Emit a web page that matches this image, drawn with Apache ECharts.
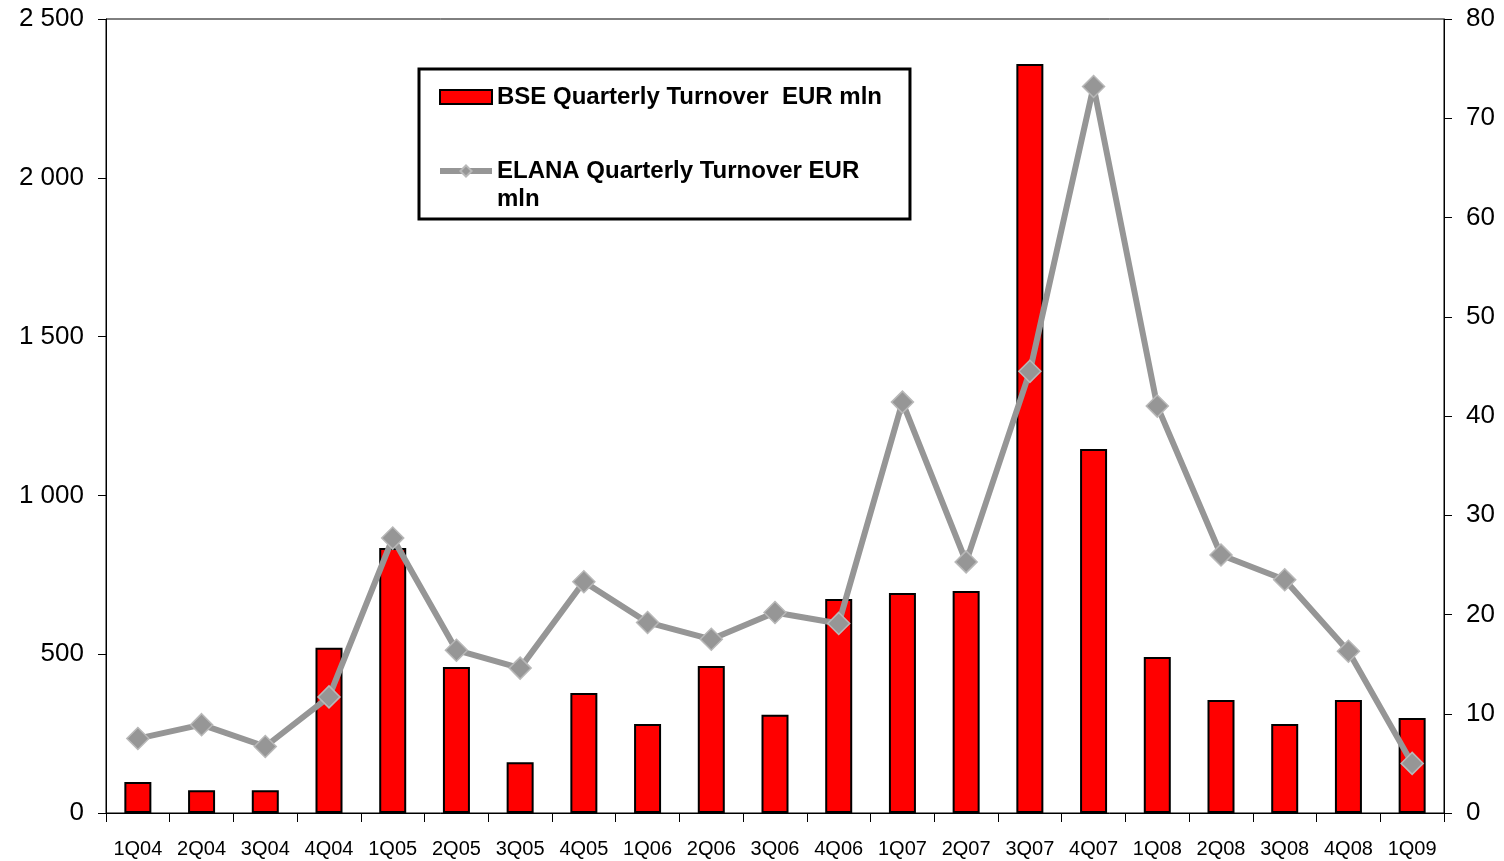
<!DOCTYPE html>
<html>
<head>
<meta charset="utf-8">
<script src="https://cdn.jsdelivr.net/npm/echarts@6/dist/echarts.min.js"></script>
<style>
  html, body { margin: 0; padding: 0; background: #fff; }
  #chart { width: 1504px; height: 861px; }
</style>
</head>
<body>
<div id="chart"></div>
<script>
// Quarters
const quarters = ['1Q04', '2Q04', '3Q04', '4Q04', '1Q05', '2Q05', '3Q05', '4Q05', '1Q06', '2Q06', '3Q06',
  '4Q06', '1Q07', '2Q07', '3Q07', '4Q07', '1Q08', '2Q08', '3Q08', '4Q08', '1Q09']

// BSE turnover, EUR mln (left axis)
const bseTurnover = [98, 72, 72, 520, 834, 460, 160, 378, 280, 463, 309, 674, 693, 699, 2358, 1146, 491, 356, 280, 356, 299]

// ELANA turnover, EUR mln (right axis)
const elanaTurnover = [7.5, 8.9, 6.7, 11.7, 27.7, 16.4, 14.6, 23.3, 19.2, 17.5, 20.2, 19.1, 41.4, 25.3, 44.5, 73.2, 41.0, 26.0, 23.5, 16.3, 5.0]

const BSE_NAME = 'BSE Quarterly Turnover  EUR mln'
const ELANA_NAME = 'ELANA Quarterly Turnover EUR mln'

const FONT = '"Liberation Sans", Arial, sans-serif'

const chart = echarts.init(document.getElementById('chart'))

chart.setOption({
  animation: false,
  textStyle: { fontFamily: FONT },
  grid: { left: 106, right: 60, top: 19, bottom: 48, show: true, borderColor: '#000', borderWidth: 1 },
  legend: {
    orient: 'vertical',
    left: 419,
    top: 69,
    padding: [14, 28, 6, 18],
    itemWidth: 52,
    itemHeight: 14,
    itemGap: 18,
    borderColor: '#000',
    borderWidth: 3,
    lineStyle: { width: 6 },
    textStyle: { fontSize: 24, fontWeight: 'bold', color: '#000', lineHeight: 28 },
    data: [{ name: BSE_NAME, icon: 'rect' }, { name: ELANA_NAME }],
    // blank first line keeps the wrapped label's first row level with its icon
    formatter: name => name === ELANA_NAME ? ' \nELANA Quarterly Turnover EUR\nmln' : name,
  },
  xAxis: {
    type: 'category',
    data: quarters,
    axisLine: { lineStyle: { color: '#000', width: 1 } },
    axisTick: { show: true, length: 9, lineStyle: { color: '#000' } },
    axisLabel: { color: '#000', fontSize: 20, margin: 26 },
  },
  yAxis: [
    {
      type: 'value',
      min: 0,
      max: 2500,
      interval: 500,
      axisLine: { show: true, lineStyle: { color: '#000' } },
      axisTick: { show: true, length: 8, lineStyle: { color: '#000' } },
      splitLine: { show: false },
      axisLabel: {
        color: '#000',
        fontSize: 26,
        margin: 22,
        formatter: v => String(v).replace(/\B(?=(\d{3})+(?!\d))/g, ' '),
      },
    },
    {
      type: 'value',
      min: 0,
      max: 80,
      interval: 10,
      axisLine: { show: true, lineStyle: { color: '#000' } },
      axisTick: { show: true, length: 8, lineStyle: { color: '#000' } },
      splitLine: { show: false },
      axisLabel: { color: '#000', fontSize: 26, margin: 22 },
    },
  ],
  series: [
    {
      name: BSE_NAME,
      type: 'bar',
      yAxisIndex: 0,
      data: bseTurnover,
      barWidth: 27,
      itemStyle: { color: '#ff0000', borderColor: '#000', borderWidth: 2 },
    },
    {
      name: ELANA_NAME,
      type: 'line',
      yAxisIndex: 1,
      data: elanaTurnover,
      symbol: 'diamond',
      symbolSize: 22,
      lineStyle: { color: '#969696', width: 6 },
      itemStyle: { color: '#969696', borderColor: '#b8b8b8', borderWidth: 1.5 },
    },
  ],
})
</script>
</body>
</html>
